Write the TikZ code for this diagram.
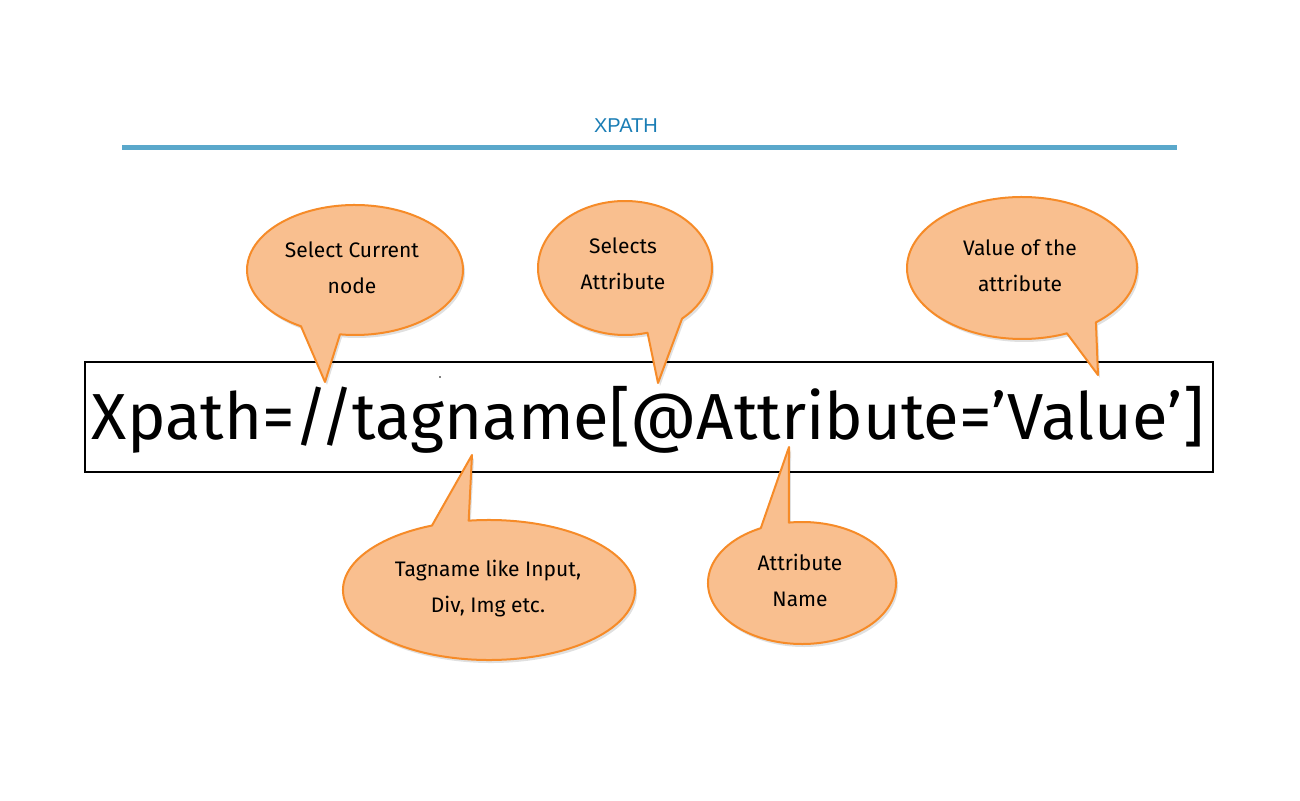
\documentclass[tikz,border=0pt]{standalone}
\usepackage{fontspec}
\setmainfont{Fira Sans}
\newfontfamily\titlefont{Liberation Sans}
\usetikzlibrary{calc}
\definecolor{titleblue}{HTML}{1A7DB5}
\definecolor{ruleblue}{HTML}{5AA8CB}
\definecolor{bubblefill}{HTML}{F9BF8F}
\definecolor{bubbleline}{HTML}{F68B28}
\tikzset{
  bubblestyle/.style={fill=bubblefill, draw=bubbleline, line width=2pt, line join=round},
  bubbleshadow/.style={fill=black, opacity=0.12},
  bubbletext/.style={align=center, font=\fontsize{21}{36}\selectfont, text=black, inner sep=0pt},
}
% #1 name, #2 cx, #3 cy, #4 rx, #5 ry, #6 start angle, #7 end angle, #8 tip
\newcommand{\bubble}[8]{%
  \coordinate (#1-c) at (#2,#3);
  \coordinate (#1-tip) at #8;
  \coordinate (#1-sc) at ($(#1-c)+(2,-3)$);
  \coordinate (#1-st) at ($(#1-tip)+(2,-3)$);
  \fill[bubbleshadow] (#1-sc) ++(#6:#4pt and #5pt)
     arc[start angle=#6, end angle=#7, x radius=#4pt, y radius=#5pt] -- (#1-st) -- cycle;
  \draw[bubblestyle] (#1-c) ++(#6:#4pt and #5pt)
     arc[start angle=#6, end angle=#7, x radius=#4pt, y radius=#5pt] -- (#1-tip) -- cycle;
}
\begin{document}
\begin{tikzpicture}[x=1pt,y=1pt]
\useasboundingbox[fill=white] (0,0) rectangle (1300,800);
% title and rule
\node[text=titleblue, font=\titlefont\fontsize{20}{24}\selectfont] (title) at (626,674) {XPATH};
\coordinate (ruleL) at (122,652);
\coordinate (ruleR) at (1177,652);
\draw[ruleblue, line width=5pt] (ruleL) -- (ruleR);
% main box
\node[draw=black, line width=2.5pt, minimum width=1128pt, minimum height=110pt, inner sep=0pt] (box) at (649,383) {};
\node[inner sep=0pt, anchor=base] (expr) at (648,360)
  {\resizebox{1112pt}{!}{\fontsize{66}{70}\selectfont Xpath=//tagname[@Attribute=’Value’]}};
\fill (440,423) circle (0.8pt);
% callouts above
\bubble{b1}{355}{530}{108}{65}{262}{600}{(325,418)}
\bubble{b2}{625}{532}{87}{67}{311}{645}{(658,417)}
\bubble{b3}{1022}{532}{115}{71}{310}{653}{(1098,425)}
% callouts below
\bubble{b4}{489}{210}{146}{70}{113}{458}{(472,345)}
\bubble{b5}{802}{217}{94}{61}{116}{458}{(789,353)}
% texts
\node[bubbletext] (t1) at (352,532) {Select Current\\node};
\node[bubbletext] (t2) at (623,536) {Selects\\Attribute};
\node[bubbletext] (t3) at (1020,534) {Value of the\\attribute};
\node[bubbletext] (t4) at (488,211) {Tagname like Input,\\Div, Img etc.};
\node[bubbletext] (t5) at (800,220) {Attribute\\Name};
\end{tikzpicture}
\end{document}
